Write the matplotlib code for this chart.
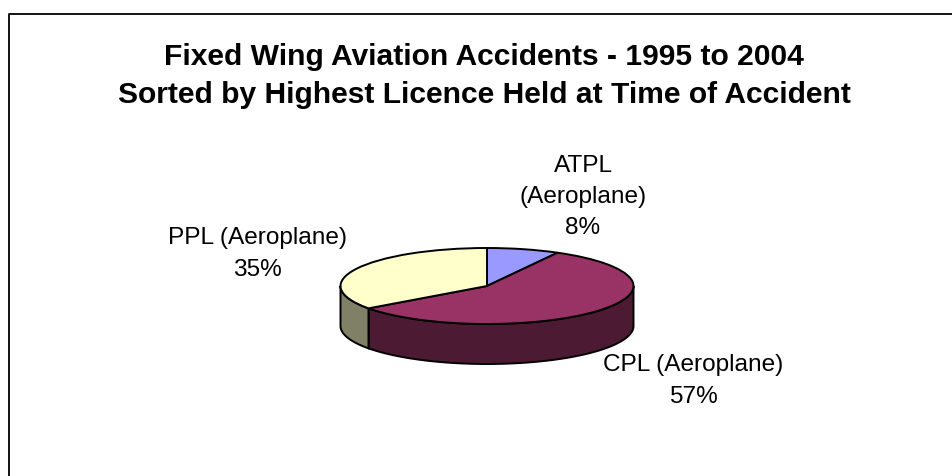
import numpy as np
import matplotlib
matplotlib.use('Agg')
import matplotlib.pyplot as plt
from matplotlib.lines import Line2D

# dados
categorias = ['ATPL\n(Aeroplane)', 'CPL (Aeroplane)', 'PPL (Aeroplane)']
valores = [8, 57, 35]
cores_topo = ['#9999FF', '#993366', '#FFFFCC']
cores_lado = ['#4D4D80', '#4D1A33', '#808066']
titulo = 'Fixed Wing Aviation Accidents - 1995 to 2004\nSorted by Highest Licence Held at Time of Accident'

L, A = 952, 477
CX, CY, RX, RY = 487, 287, 146.5, 38
ESPESSURA = 40 / RY

plt.rcParams['font.family'] = ['Liberation Sans', 'DejaVu Sans']

fig = plt.figure(figsize=(L / 100, A / 100), dpi=100)
ax = fig.add_axes([0, 0, 1, 1])


def px(x, y):
    # converte pixel da imagem para fracao da figura
    return x / L, 1 - y / A


# lateral do disco: so a metade da frente aparece
inicio = 0.0
total = sum(valores)
for v, cor in zip(valores, cores_lado):
    fim = inicio + v / total * 360
    a0 = max(inicio, 90)
    a1 = min(fim, 270)
    if a1 > a0:
        ang = np.radians(np.linspace(a0, a1, 120))
        xs = np.sin(ang)
        ys = np.cos(ang)
        ax.fill(np.r_[xs, xs[::-1]], np.r_[ys, ys[::-1] - ESPESSURA],
                facecolor=cor, edgecolor='black', linewidth=1.4, zorder=1)
    inicio = fim

ax.pie(valores, colors=cores_topo, startangle=90, counterclock=False,
       wedgeprops=dict(edgecolor='black', linewidth=1.4, zorder=2))

ax.set_aspect('auto')
ax.set_xlim(-CX / RX, (L - CX) / RX)
ax.set_ylim((CY - A) / RY, CY / RY)
ax.axis('off')

fig.text(*px(484, 76), titulo, ha='center', va='center', fontsize=21.6,
         fontweight='bold', color='black', linespacing=1.42)

rotulos_pos = [(583, 197), (693, 381), (257, 254)]
for nome, v, (x, y) in zip(categorias, valores, rotulos_pos):
    fig.text(*px(x, y), f'{nome}\n{v}%', ha='center', va='center',
             fontsize=17.6, color='black', linespacing=1.55)

# moldura do grafico, cortada na direita e embaixo
fig.add_artist(Line2D([8.5 / L, 8.5 / L, 1], [0, 1 - 15 / A, 1 - 15 / A],
                      color='black', linewidth=1.3))

fig.savefig('out.png', dpi=100)
